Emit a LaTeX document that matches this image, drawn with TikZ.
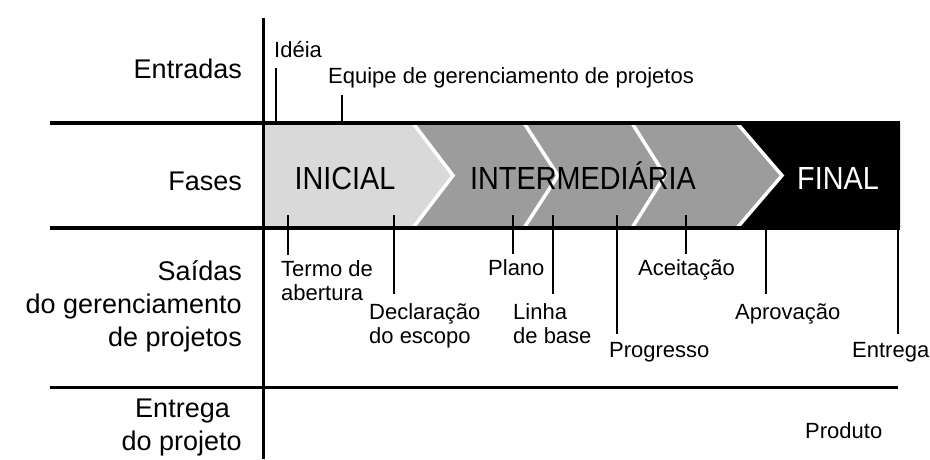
\documentclass[tikz,border=0pt]{standalone}
\usepackage{fontspec}
\setmainfont{Liberation Sans}
\newfontfamily\phasefont[FakeStretch=0.9]{Liberation Sans}
\definecolor{phaselight}{RGB}{217, 217, 217}
\definecolor{phasemid}{RGB}{156, 156, 156}
\usepackage{tikz}

\begin{document}
\begin{tikzpicture}[x=1pt, y=-1pt,
  rowlabel/.style={font=\fontsize{27}{33}\selectfont, align=right, anchor=base east, inner sep=0pt},
  outlabel/.style={font=\fontsize{22}{24}\selectfont, align=left, anchor=base west, inner sep=0pt},
  phaselabel/.style={font=\phasefont\fontsize{32}{32}\selectfont, anchor=base, inner sep=0pt},
  tick/.style={line width=2.5pt},
  rule/.style={line width=4.5pt}]
  \useasboundingbox (0, 0) rectangle (930, 459);

  % Phase band
  \fill[phasemid] (263, 123) rectangle (900, 228);
  \fill[phaselight] (263, 123) -- (413, 123) -- (453, 175.5) -- (413, 228) -- (263, 228) -- cycle;
  \fill[black] (737, 123) -- (900, 123) -- (900, 228) -- (737, 228) -- (782, 175.5) -- cycle;
  \draw[white, line width=3.5pt] (413, 123) -- (453, 175.5) -- (413, 228);
  \draw[white, line width=3.5pt] (524, 123) -- (558, 175.5) -- (524, 228);
  \draw[white, line width=3.5pt] (632, 123) -- (665, 175.5) -- (632, 228);
  \draw[white, line width=3.5pt] (737, 123) -- (782, 175.5) -- (737, 228);

  \node[phaselabel] (inicial) at (345, 189) {INICIAL};
  \node[phaselabel] (intermed) at (583, 189) {INTERMEDIÁRIA};
  \node[phaselabel, text=white] (final) at (838, 189) {FINAL};

  % Row titles (multi-line nodes sit on their last line)
  \node[rowlabel] (entradas) at (242, 78) {Entradas};
  \node[rowlabel] (fases) at (242, 190) {Fases};
  \node[rowlabel] (saidas) at (242, 346) {Saídas\\do gerenciamento\\de projetos};
  \node[rowlabel] (entregaproj) at (242, 450) {Entrega\hspace*{12pt}\\do projeto};

  % Inputs
  \node[outlabel] (ideia) at (274, 57) {Idéia};
  \node[outlabel] (equipe) at (328, 83) {Equipe de gerenciamento de projetos};
  \coordinate (ti) at (276, 123);
  \coordinate (te) at (342, 123);
  \draw[tick, shorten >=11pt] (ti) -- (ti |- ideia.south);
  \draw[tick, shorten >=7pt] (te) -- (te |- equipe.south);

  % Outputs
  \node[outlabel] (termo) at (281, 300) {Termo de\\abertura};
  \node[outlabel] (escopo) at (369, 343) {Declaração\\do escopo};
  \node[outlabel] (plano) at (488, 275) {Plano};
  \node[outlabel] (linha) at (513, 343) {Linha\\de base};
  \node[outlabel] (progresso) at (609, 357) {Progresso};
  \node[outlabel] (aceite) at (638, 275) {Aceitação};
  \node[outlabel] (aprov) at (735, 319) {Aprovação};
  \node[outlabel] (entrega) at (852, 357) {Entrega};
  \coordinate (t1) at (288, 215);
  \coordinate (t2) at (394, 215);
  \coordinate (t3) at (513, 215);
  \coordinate (t4) at (553, 215);
  \coordinate (t5) at (617, 215);
  \coordinate (t6) at (686, 215);
  \coordinate (t7) at (766, 215);
  \coordinate (t8) at (898, 215);
  \draw[tick, shorten >=5pt] (t1) -- (t1 |- termo.north);
  \draw[tick, shorten >=9pt] (t2) -- (t2 |- escopo.north);
  \draw[tick, shorten >=5pt] (t3) -- (t3 |- plano.north);
  \draw[tick, shorten >=9pt] (t4) -- (t4 |- linha.north);
  \draw[tick, shorten >=8pt] (t5) -- (t5 |- progresso.north);
  \draw[tick, shorten >=5pt] (t6) -- (t6 |- aceite.north);
  \draw[tick, shorten >=9pt] (t7) -- (t7 |- aprov.north);
  \draw[tick, shorten >=8pt] (t8) -- (t8 |- entrega.north);

  % Deliverable
  \node[outlabel] (produto) at (805, 438) {Produto};

  % Grid lines
  \draw[rule] (50, 123) -- (900, 123);
  \draw[rule] (50, 228) -- (900, 228);
  \draw[line width=3pt] (50, 387) -- (898, 387);
  \draw[line width=3pt] (263, 18) -- (263, 459);
\end{tikzpicture}
\end{document}
